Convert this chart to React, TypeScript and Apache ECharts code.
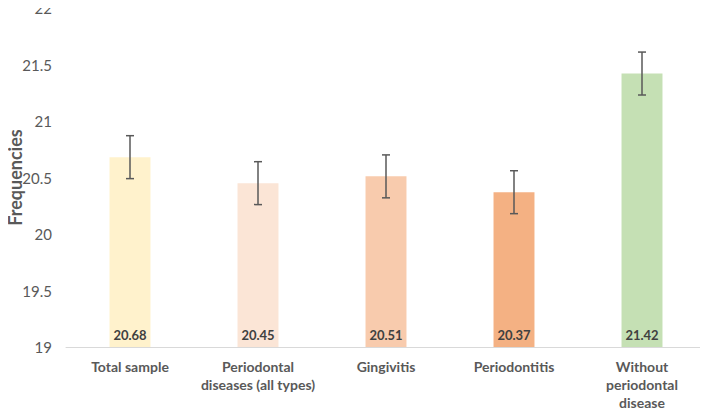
import React, { useEffect, useRef } from "react";
import * as echarts from "echarts";

const categories = [
  "Total sample",
  "Periodontal\ndiseases (all types)",
  "Gingivitis",
  "Periodontitis",
  "Without\nperiodontal\ndisease",
];
const values = [20.68, 20.45, 20.51, 20.37, 21.42];
const errors = [0.19, 0.19, 0.19, 0.19, 0.19];
const barColors = ["#FFF2CC", "#FBE5D6", "#F8CBAD", "#F4B183", "#C5E0B4"];

const FONT = "Lato, 'Open Sans', sans-serif";

export default function App() {
  const ref = useRef<HTMLDivElement>(null);
  useEffect(() => {
    if (!ref.current) return;
    const chart = echarts.init(ref.current, null, { renderer: "svg" });
    const errData = values.map((v, i) => [i, v - errors[i], v + errors[i]]);
    chart.setOption({
      animation: false,
      grid: { left: 66, right: 2, top: 8, bottom: 64, containLabel: false, outerBoundsMode: "none" },
      xAxis: {
        type: "category",
        data: categories,
        axisLine: { lineStyle: { color: "#D9D9D9", width: 1 } },
        axisTick: { show: false },
        axisLabel: {
          color: "#595959",
          fontFamily: FONT,
          fontWeight: "bold",
          fontSize: 14,
          lineHeight: 18,
          margin: 10,
          interval: 0,
        },
      },
      yAxis: {
        type: "value",
        min: 19,
        max: 22,
        interval: 0.5,
        name: "Frequencies",
        nameLocation: "middle",
        nameGap: 42,
        nameMoveOverlap: false,
        nameTextStyle: {
          color: "#595959",
          fontFamily: FONT,
          fontWeight: "bold",
          fontSize: 18,
        },
        axisLine: { show: false },
        axisTick: { show: false },
        splitLine: { show: false },
        axisLabel: {
          color: "#595959",
          fontFamily: FONT,
          fontSize: 15,
          margin: 14,
        },
      },
      series: [
        {
          type: "bar",
          barWidth: "32%",
          data: values.map((v, i) => ({ value: v, itemStyle: { color: barColors[i] } })),
          label: {
            show: true,
            position: "insideBottom",
            distance: 6,
            color: "#404040",
            fontFamily: FONT,
            fontWeight: "bold",
            fontSize: 13,
            formatter: (p: any) => p.value.toFixed(2),
          },
        },
        {
          type: "custom",
          data: errData,
          z: 10,
          renderItem: (params: any, api: any) => {
            const x = api.value(0);
            const lo = api.coord([x, api.value(1)]);
            const hi = api.coord([x, api.value(2)]);
            const hw = 4;
            const style = { stroke: "#595959", lineWidth: 1.5 };
            return {
              type: "group",
              children: [
                { type: "line", shape: { x1: hi[0], y1: hi[1], x2: lo[0], y2: lo[1] }, style },
                { type: "line", shape: { x1: hi[0] - hw, y1: hi[1], x2: hi[0] + hw, y2: hi[1] }, style },
                { type: "line", shape: { x1: lo[0] - hw, y1: lo[1], x2: lo[0] + hw, y2: lo[1] }, style },
              ],
            };
          },
        },
      ],
    });
    return () => chart.dispose();
  }, []);
  return <div ref={ref} style={{ width: 708, height: 411, marginLeft: -8, marginTop: -8 }} />;
}
